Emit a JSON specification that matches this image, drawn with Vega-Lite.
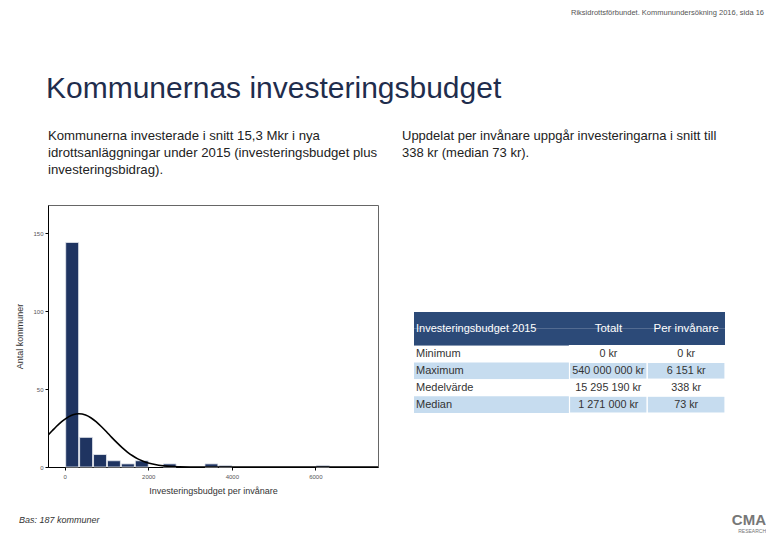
{
  "$schema": "https://vega.github.io/schema/vega-lite/v6.json",
  "padding": {"left": 15, "top": 8, "right": 0, "bottom": 0},
  "background": "white",
  "config": {
    "font": "Liberation Sans",
    "view": {"stroke": null},
    "concat": {"spacing": 0},
    "title": {"fontWeight": "normal", "anchor": "start"}
  },
  "datasets": {
    "hist": [
      {"bin_start": 0, "bin_end": 333.33, "count": 144},
      {"bin_start": 333.33, "bin_end": 666.67, "count": 19},
      {"bin_start": 666.67, "bin_end": 1000, "count": 8},
      {"bin_start": 1000, "bin_end": 1333.33, "count": 4},
      {"bin_start": 1333.33, "bin_end": 1666.67, "count": 2},
      {"bin_start": 1666.67, "bin_end": 2000, "count": 4},
      {"bin_start": 2333.33, "bin_end": 2666.67, "count": 2},
      {"bin_start": 3333.33, "bin_end": 3666.67, "count": 2},
      {"bin_start": 3666.67, "bin_end": 4000, "count": 1},
      {"bin_start": 6000, "bin_end": 6333.33, "count": 1}
    ],
    "curve": [
      {"x": -400, "y": 20.4}, {"x": -300, "y": 23.2}, {"x": -200, "y": 26.0}, {"x": -100, "y": 28.5},
      {"x": 0, "y": 30.6}, {"x": 100, "y": 32.3}, {"x": 200, "y": 33.5}, {"x": 338, "y": 34.1},
      {"x": 500, "y": 33.3}, {"x": 625, "y": 31.6}, {"x": 750, "y": 29.1}, {"x": 875, "y": 26.0},
      {"x": 1000, "y": 22.6}, {"x": 1125, "y": 19.0}, {"x": 1250, "y": 15.6}, {"x": 1375, "y": 12.4},
      {"x": 1500, "y": 9.6}, {"x": 1625, "y": 7.2}, {"x": 1750, "y": 5.2}, {"x": 1875, "y": 3.7},
      {"x": 2000, "y": 2.5}, {"x": 2250, "y": 1.1}, {"x": 2500, "y": 0.4}, {"x": 2750, "y": 0.14},
      {"x": 3000, "y": 0.04}, {"x": 3500, "y": 0}, {"x": 4500, "y": 0}, {"x": 7500, "y": 0}
    ],
    "table": [
      {"r": "h1", "label": "Investeringsbudget 2015", "tot": "Totalt", "per": "Per invånare"},
      {"r": "h2", "label": "", "tot": "", "per": ""},
      {"r": "Minimum", "label": "Minimum", "tot": "0 kr", "per": "0 kr"},
      {"r": "Maximum", "label": "Maximum", "tot": "540 000 000 kr", "per": "6 151 kr"},
      {"r": "Medelvärde", "label": "Medelvärde", "tot": "15 295 190 kr", "per": "338 kr"},
      {"r": "Median", "label": "Median", "tot": "1 271 000 kr", "per": "73 kr"}
    ]
  },
  "vconcat": [
    {
      "width": 716, "height": 0,
      "data": {"values": [{}]},
      "mark": {"type": "text"},
      "encoding": {"text": {"value": ""}},
      "title": {"text": "Riksidrottsförbundet. Kommunundersökning 2016, sida 16", "anchor": "end", "fontSize": 7.5, "color": "#555", "offset": 38}
    },
    {
      "width": 716, "height": 0,
      "data": {"values": [{}]},
      "mark": {"type": "text"},
      "encoding": {"text": {"value": ""}},
      "title": {"text": "Kommunernas investeringsbudget", "fontSize": 30, "color": "#1F2D4D", "dx": -2, "offset": 4}
    },
    {
      "spacing": 23,
      "hconcat": [
        {
          "width": 330, "height": 262,
          "view": {"stroke": "#666", "strokeWidth": 1},
          "title": {
            "text": ["Kommunerna investerade i snitt 15,3 Mkr i nya", "idrottsanläggningar under 2015 (investeringsbudget plus", "investeringsbidrag)."],
            "fontSize": 13.2, "color": "#222", "lineHeight": 17, "offset": 28, "dx": 32
          },
          "layer": [
            {
              "data": {"name": "hist"},
              "mark": {"type": "bar", "color": "#1F3461", "stroke": "#E8EBF0", "strokeWidth": 0.8},
              "encoding": {
                "x": {
                  "field": "bin_start", "type": "quantitative", "bin": "binned",
                  "scale": {"domain": [-400, 7500], "nice": false, "zero": false},
                  "axis": {"values": [0, 2000, 4000, 6000], "format": "d", "grid": false, "domainColor": "#000", "tickColor": "#000", "tickSize": 3, "labelFontSize": 6, "labelColor": "#555", "labelPadding": 3, "title": "Investeringsbudget per invånare", "titleFontSize": 9, "titleFontWeight": "normal", "titleColor": "#333", "titlePadding": 7}
                },
                "x2": {"field": "bin_end"},
                "y": {
                  "field": "count", "type": "quantitative",
                  "scale": {"domain": [0, 168], "nice": false},
                  "axis": {"values": [0, 50, 100, 150], "grid": false, "domainColor": "#000", "tickColor": "#000", "tickSize": 3, "labelFontSize": 6, "labelColor": "#555", "labelPadding": 2, "title": "Antal kommuner", "titleFontSize": 9, "titleFontWeight": "normal", "titleColor": "#333", "titlePadding": 8}
                }
              }
            },
            {
              "data": {"name": "curve"},
              "mark": {"type": "line", "color": "#000", "strokeWidth": 1.6, "interpolate": "monotone", "clip": true},
              "encoding": {
                "x": {"field": "x", "type": "quantitative"},
                "y": {"field": "y", "type": "quantitative"}
              }
            }
          ]
        },
        {
          "width": 311, "height": 208,
          "data": {"name": "table"},
          "title": {
            "text": ["Uppdelat per invånare uppgår investeringarna i snitt till", "338 kr (median 73 kr)."],
            "fontSize": 13, "color": "#222", "lineHeight": 17, "offset": 45, "dx": -12
          },
          "encoding": {
            "y": {"field": "r", "type": "ordinal", "scale": {"domain": ["e1", "e2", "e3", "e4", "e5", "e6", "h1", "h2", "Minimum", "Maximum", "Medelvärde", "Median"], "paddingInner": 0, "paddingOuter": 0.18, "align": 1}, "axis": null}
          },
          "layer": [
            {
              "mark": {"type": "rect"},
              "encoding": {
                "color": {"field": "r", "type": "nominal", "scale": {"domain": ["h1", "h2", "Minimum", "Maximum", "Medelvärde", "Median"], "range": ["#2C4A78", "#2C4A78", "#FFFFFF", "#C6DCEF", "#FFFFFF", "#C6DCEF"]}, "legend": null}
              }
            },
            {
              "transform": [{"filter": "datum.r != 'h1' && datum.r != 'h2'"}, {"fold": ["tot", "per"], "as": ["col", "txt"]}],
              "mark": {"type": "rect", "stroke": "#FFFFFF", "strokeWidth": 1.2},
              "encoding": {
                "x": {"field": "col", "type": "ordinal", "scale": {"domain": ["label", "label2", "tot", "per"], "paddingInner": 0, "paddingOuter": 0}, "axis": null},
                "color": {"field": "r", "type": "nominal", "legend": null}
              }
            },
            {
              "transform": [{"filter": "datum.r == 'h1'"}],
              "mark": {"type": "text", "align": "left", "dx": 2, "fontSize": 11, "color": "#FFFFFF"},
              "encoding": {"x": {"datum": "label", "type": "ordinal", "bandPosition": 0}, "y": {"field": "r", "type": "ordinal", "bandPosition": 1}, "text": {"field": "label"}}
            },
            {
              "transform": [{"filter": "datum.r == 'h1'"}, {"fold": ["tot", "per"], "as": ["col", "txt"]}],
              "mark": {"type": "text", "align": "center", "fontSize": 11.5, "color": "#FFFFFF"},
              "encoding": {"x": {"field": "col", "type": "ordinal", "bandPosition": 0.5}, "y": {"field": "r", "type": "ordinal", "bandPosition": 1}, "text": {"field": "txt"}}
            },
            {
              "transform": [{"filter": "datum.r != 'h1' && datum.r != 'h2'"}],
              "mark": {"type": "text", "align": "left", "dx": 2, "fontSize": 11, "color": "#333"},
              "encoding": {"x": {"datum": "label", "type": "ordinal", "bandPosition": 0}, "text": {"field": "label"}}
            },
            {
              "transform": [{"filter": "datum.r != 'h1' && datum.r != 'h2'"}, {"fold": ["tot", "per"], "as": ["col", "txt"]}],
              "mark": {"type": "text", "align": "center", "fontSize": 10.8, "color": "#333"},
              "encoding": {"x": {"field": "col", "type": "ordinal", "bandPosition": 0.5}, "text": {"field": "txt"}}
            }
          ]
        }
      ]
    },
    {
      "hconcat": [
        {
          "width": 400, "height": 0,
          "data": {"values": [{}]},
          "mark": {"type": "text"},
          "encoding": {"text": {"value": ""}},
          "title": {"text": "Bas: 187 kommuner", "fontSize": 9, "fontStyle": "italic", "color": "#333", "dx": -29, "dy": 29, "offset": 0}
        },
        {
          "width": 318, "height": 0,
          "data": {"values": [{}]},
          "mark": {"type": "text"},
          "encoding": {"text": {"value": ""}},
          "title": {"text": "CMA", "subtitle": "RESEARCH", "anchor": "end", "fontSize": 15, "fontWeight": "bold", "color": "#777", "subtitleFontSize": 5, "subtitleColor": "#777", "subtitlePadding": 1, "dy": 38, "offset": 0}
        }
      ]
    }
  ]
}
